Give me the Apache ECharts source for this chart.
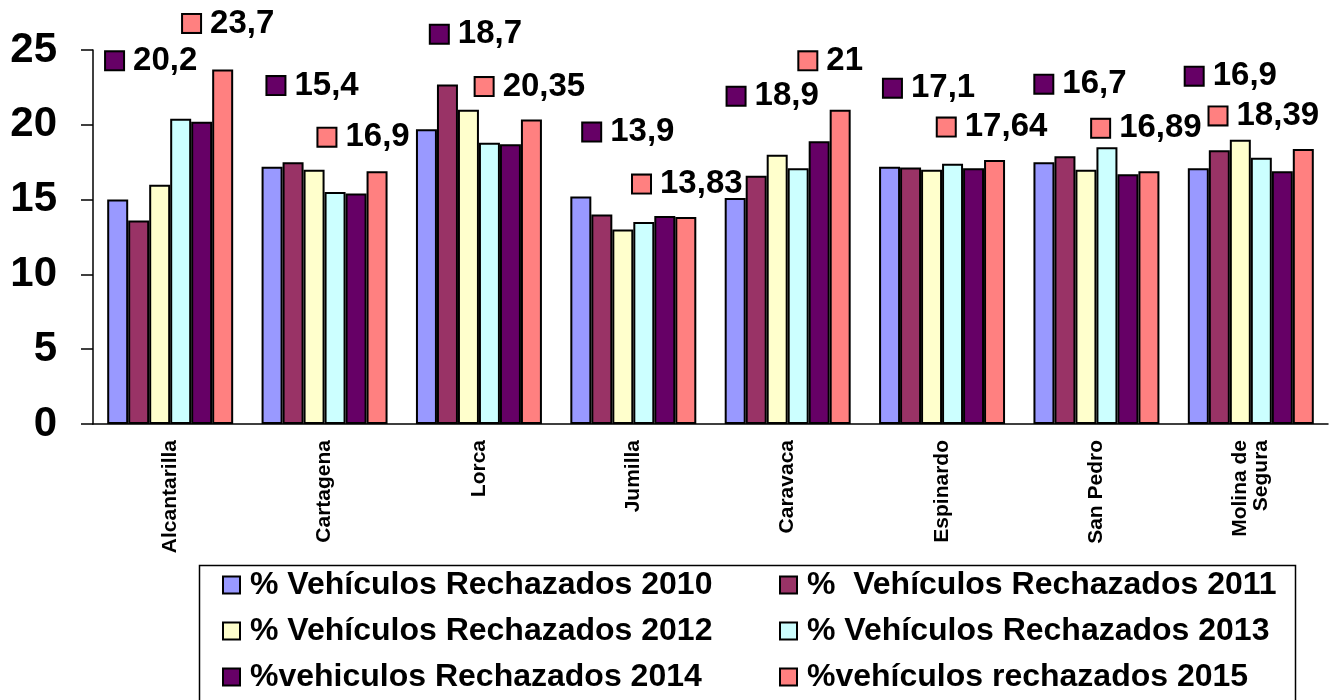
<html>
<head>
    <meta charset="utf-8">
    <title></title>
    <script src="https://cdn.jsdelivr.net/npm/echarts@6/dist/echarts.min.js"></script>
    <style>
        body{margin:0;background:#fff;}
    </style>
</head>
<body>
    <div id="main" style="width:1338px;height:700px;"></div>
</body>
</html>

<script>
    // datos
    var estaciones=['Alcantarilla','Cartagena','Lorca','Jumilla','Caravaca','Espinardo','San Pedro','Molina de\nSegura'];
    var yTicks=[0,5,10,15,20,25];

    var r2010=[15.0,17.2,19.7,15.2,15.1,17.2,17.5,17.1];
    var r2011=[13.6,17.5,22.7,14.0,16.6,17.15,17.9,18.3];
    var r2012=[16.0,17.0,21.0,13.0,18.0,17.0,17.0,19.0];
    var r2013=[20.4,15.5,18.8,13.5,17.1,17.4,18.5,17.8];
    var r2014=[20.2,15.4,18.7,13.9,18.9,17.1,16.7,16.9];
    var r2015=[23.7,16.9,20.35,13.83,21,17.64,16.89,18.39];

    var nombres=['% Vehículos Rechazados 2010','%  Vehículos Rechazados 2011','% Vehículos Rechazados 2012',
                 '% Vehículos Rechazados 2013','%vehiculos Rechazados 2014','%vehículos rechazados 2015'];
    var colores=['#9999FF','#993366','#FFFFCC','#CCFFFF','#660066','#FF8080'];

    // desplazamiento de las etiquetas (colocadas a mano en el original)
    var off2014=[[-50,-61],[-43,-108],[-34,-110],[-36,-84],[-46,-45],[-44,-80],[-47,-90],[-51,-95]];
    var off2015=[[6,-46],[-13,-34],[-1,-33],[2,-33],[-9,-49],[-2,-33],[-2,-43],[-39,-33]];

    var fuente='Liberation Sans, Arial, sans-serif';

    function etiquetas(valores,offsets,color){
        return valores.map(function(v,i){
            return {
                value:v,
                label:{
                    show:true,
                    position:'top',
                    distance:0,
                    align:'center',
                    verticalAlign:'middle',
                    offset:offsets[i],
                    formatter:'{s|}{t|'+String(v).replace('.',',')+'}',
                    rich:{
                        s:{width:17,height:17,backgroundColor:color,borderColor:'#000',borderWidth:2},
                        t:{fontSize:33,fontWeight:'bold',color:'#000',fontFamily:fuente,padding:[0,0,0,10]}
                    }
                }
            };
        });
    }

    window.onload=function(){
        var myChart=echarts.init(document.getElementById('main'));

        var series=[r2010,r2011,r2012,r2013,r2014,r2015].map(function(d,k){
            var datos=d;
            if(k==4) datos=etiquetas(d,off2014,colores[4]);
            if(k==5) datos=etiquetas(d,off2015,colores[5]);
            return {
                name:nombres[k],
                type:'bar',
                data:datos,
                barGap:'0%',
                barCategoryGap:'18.4%',
                itemStyle:{color:colores[k],borderColor:'#000',borderWidth:2},
                emphasis:{disabled:true}
            };
        });

        var estiloLeyenda={fontSize:32,fontWeight:'bold',color:'#000',fontFamily:fuente,lineHeight:36,padding:[0,0,0,5]};

        var option={
            animation:false,
            backgroundColor:'#fff',
            grid:{left:93,right:10,top:50,bottom:276},
            legend:[{
                orient:'vertical',
                left:222,
                top:567,
                padding:0,
                height:200,
                icon:'rect',
                itemWidth:17,
                itemHeight:17,
                itemGap:10,
                data:[nombres[0],nombres[2],nombres[4]],
                textStyle:estiloLeyenda
            },{
                orient:'vertical',
                left:779,
                top:567,
                padding:0,
                height:200,
                icon:'rect',
                itemWidth:17,
                itemHeight:17,
                itemGap:10,
                data:[nombres[1],nombres[3],nombres[5]],
                textStyle:estiloLeyenda
            }],
            graphic:[{
                type:'rect',
                left:197,
                top:563,
                shape:{width:1096,height:140},
                style:{fill:'none',stroke:'#000',lineWidth:1.5},
                silent:true
            }],
            xAxis:{
                type:'category',
                data:estaciones,
                axisLine:{lineStyle:{color:'#000',width:1.5}},
                axisTick:{length:8,lineStyle:{color:'#000',width:1.5}},
                axisLabel:{
                    interval:0,
                    rotate:90,
                    margin:16,
                    fontSize:21,
                    fontWeight:'bold',
                    color:'#000',
                    fontFamily:fuente,
                    lineHeight:21
                }
            },
            yAxis:{
                type:'value',
                min:yTicks[0],
                max:yTicks[yTicks.length-1],
                interval:5,
                splitLine:{show:false},
                axisLine:{show:true,lineStyle:{color:'#000',width:1.5}},
                axisTick:{show:true,length:12,lineStyle:{color:'#000',width:1.5}},
                axisLabel:{
                    margin:36,
                    fontSize:42,
                    fontWeight:'bold',
                    color:'#000',
                    fontFamily:fuente
                }
            },
            series:series
        };

        myChart.setOption(option);
    }
</script>
